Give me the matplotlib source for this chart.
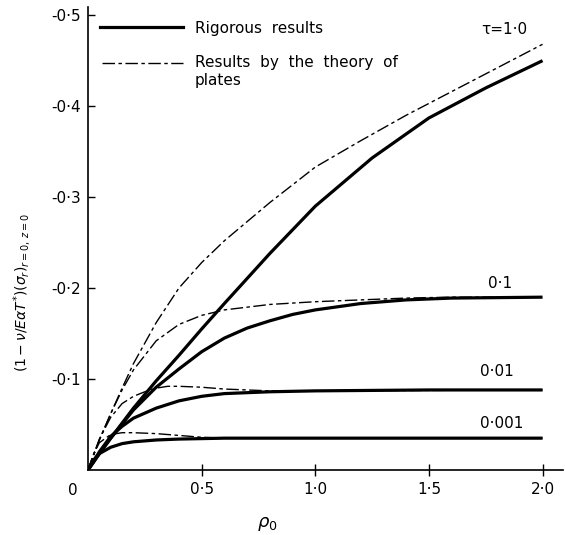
import matplotlib.pyplot as plt
import numpy as np

# rigorous results (solid); plotted as magnitude of -(sigma_r)
x_r1 = [0, 0.05, 0.1, 0.2, 0.3, 0.4, 0.5, 0.6, 0.8, 1.0, 1.25, 1.5, 1.75, 2.0]
y_r1 = [0, 0.018, 0.035, 0.068, 0.098, 0.126, 0.155, 0.183, 0.238, 0.29, 0.343, 0.387, 0.42, 0.45]

x_r01 = [0, 0.05, 0.1, 0.2, 0.3, 0.4, 0.5, 0.6, 0.7, 0.8, 0.9, 1.0, 1.2, 1.4, 1.6, 2.0]
y_r01 = [0, 0.018, 0.035, 0.066, 0.091, 0.111, 0.13, 0.145, 0.156, 0.164, 0.171, 0.176, 0.183, 0.187, 0.189, 0.19]

x_r001 = [0, 0.05, 0.1, 0.15, 0.2, 0.3, 0.4, 0.5, 0.6, 0.8, 1.0, 1.5, 2.0]
y_r001 = [0, 0.02, 0.037, 0.048, 0.057, 0.068, 0.076, 0.081, 0.084, 0.086, 0.087, 0.088, 0.088]

x_r0001 = [0, 0.025, 0.05, 0.1, 0.15, 0.2, 0.3, 0.4, 0.6, 1.0, 2.0]
y_r0001 = [0, 0.011, 0.018, 0.025, 0.029, 0.031, 0.033, 0.034, 0.035, 0.035, 0.035]

# theory of plates (dash-dot)
x_p1 = [0, 0.05, 0.1, 0.15, 0.2, 0.3, 0.4, 0.5, 0.6, 0.8, 1.0, 1.2, 1.4, 1.6, 1.8, 2.0]
y_p1 = [0, 0.033, 0.062, 0.09, 0.117, 0.162, 0.2, 0.228, 0.252, 0.294, 0.333, 0.362, 0.39, 0.416, 0.442, 0.468]

x_p01 = [0, 0.05, 0.1, 0.15, 0.2, 0.3, 0.4, 0.5, 0.6, 0.8, 1.0, 1.2, 1.4, 1.6, 2.0]
y_p01 = [0, 0.033, 0.062, 0.088, 0.11, 0.142, 0.16, 0.17, 0.176, 0.182, 0.185, 0.187, 0.189, 0.19, 0.19]

x_p001 = [0, 0.05, 0.1, 0.15, 0.2, 0.25, 0.3, 0.35, 0.4, 0.5, 0.6, 0.7, 0.8, 1.0, 2.0]
y_p001 = [0, 0.034, 0.058, 0.073, 0.081, 0.086, 0.09, 0.092, 0.092, 0.091, 0.089, 0.088, 0.087, 0.087, 0.088]

x_p0001 = [0, 0.025, 0.05, 0.1, 0.15, 0.2, 0.3, 0.4, 0.5, 0.6, 2.0]
y_p0001 = [0, 0.018, 0.03, 0.039, 0.041, 0.041, 0.04, 0.038, 0.036, 0.035, 0.035]

tau_labels = ['\u03c4=1\u00b70', '0\u00b71', '0\u00b701', '0\u00b7001']
tau_label_pos = [(1.83, 0.484), (1.815, 0.205), (1.80, 0.108), (1.82, 0.051)]

xticks = [0.5, 1.0, 1.5, 2.0]
xtick_labels = ['0\u00b75', '1\u00b70', '1\u00b75', '2\u00b70']
yticks = [0.1, 0.2, 0.3, 0.4, 0.5]
ytick_labels = ['-0\u00b71', '-0\u00b72', '-0\u00b73', '-0\u00b74', '-0\u00b75']

fig = plt.figure(figsize=(5.65, 5.35), dpi=100)
ax = fig.add_axes([88/565, 1-470/535, 475/565, 463/535])

dash = (0, (9, 2.5, 2.5, 2.5))
for xs, ys in [(x_p1, y_p1), (x_p01, y_p01), (x_p001, y_p001), (x_p0001, y_p0001)]:
    ax.plot(xs, ys, color='black', lw=1.0, linestyle=dash)
for xs, ys in [(x_r1, y_r1), (x_r01, y_r01), (x_r001, y_r001), (x_r0001, y_r0001)]:
    ax.plot(xs, ys, color='black', lw=2.3, solid_capstyle='butt')

for lab, (tx, ty) in zip(tau_labels, tau_label_pos):
    ax.text(tx, ty, lab, fontsize=11, ha='center', va='center')

# legend drawn by hand so the dash sits on the first text line
ax.plot([0.025, 0.2], [0.957, 0.957], transform=ax.transAxes, color='black', lw=2.3)
ax.plot([0.03, 0.2], [0.879, 0.879], transform=ax.transAxes, color='black', lw=1.0, linestyle=dash)
ax.text(0.225, 0.957, 'Rigorous  results', transform=ax.transAxes, fontsize=11, va='center_baseline')
ax.text(0.225, 0.897, 'Results  by  the  theory  of\nplates', transform=ax.transAxes,
        fontsize=11, va='top', linespacing=1.3)

ax.set_xlim(0, 2.09)
ax.set_ylim(0, 0.509)
ax.spines['top'].set_visible(False)
ax.spines['right'].set_visible(False)
ax.spines['left'].set_linewidth(1.2)
ax.spines['bottom'].set_linewidth(1.2)

ax.set_xticks(xticks, xtick_labels)
ax.set_yticks(yticks, ytick_labels)
ax.tick_params(axis='x', direction='inout', length=8, width=1, labelsize=11, pad=5)
ax.tick_params(axis='y', direction='in', length=5, width=1, labelsize=11, pad=5)
ax.annotate('0', xy=(0, 0), xytext=(-11, -15), textcoords='offset points',
            fontsize=11, ha='center', va='center')

ax.set_xlabel(r'$\rho_0$', fontsize=13, va='center')
ax.xaxis.set_label_coords(0.377, -0.117)
ax.set_ylabel(r'$(1-\nu/E\alpha T^{*})(\sigma_r)_{r=0,\,z=0}$', fontsize=10, va='center')
ax.yaxis.set_label_coords(-0.139, 0.384)

fig.savefig('out.png', dpi=100)
